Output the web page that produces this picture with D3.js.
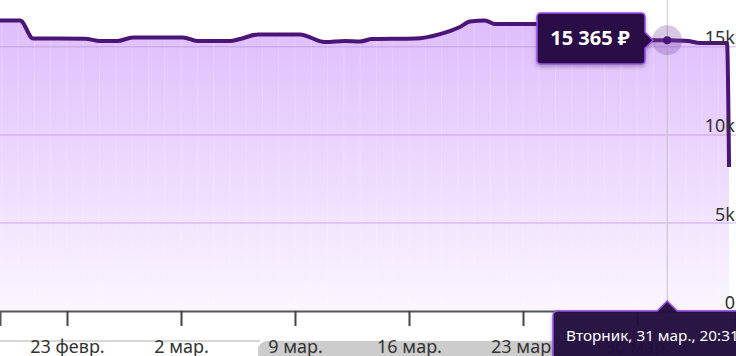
<!DOCTYPE html>
<html><head><meta charset="utf-8">
<script src="https://cdn.jsdelivr.net/npm/d3@7"></script>
<style>html,body{margin:0;padding:0;background:#fff;overflow:hidden}svg{display:block;font-family:"Noto Sans","Open Sans",sans-serif}</style>
</head><body><svg id="c" width="736" height="356"></svg>
<script>
const dates = ["2026-02-18T21:16","2026-02-20T03:00","2026-02-20T22:00","2026-02-24T02:30","2026-02-25T01:00","2026-02-26T02:00","2026-02-27T01:00","2026-03-02T03:00","2026-03-03T00:00","2026-03-05T00:00","2026-03-05T15:00","2026-03-06T17:30","2026-03-09T07:00","2026-03-10T20:00","2026-03-12T02:00","2026-03-13T00:00","2026-03-13T17:30","2026-03-16T09:00","2026-03-17T21:40","2026-03-19T03:00","2026-03-19T18:00","2026-03-20T16:00","2026-03-21T06:45","2026-03-24T01:00","2026-03-27T17:30","2026-03-28T11:00","2026-03-31T20:31","2026-04-02T03:00","2026-04-02T21:00","2026-04-04T12:40","2026-04-04T15:40"];
const prices = [16490,16490,15465,15455,15323,15323,15522,15522,15323,15323,15437,15692,15692,15266,15323,15300,15432,15460,15715,16117,16430,16486,16287,16287,16287,15400,15365,15323,15210,15210,8180];
const yTicks = [0,5000,10000,15000];
const yTickLabels = ["0","5k","10k","15k"];
const xTicks = ["2026-02-23","2026-03-02","2026-03-09","2026-03-16","2026-03-23","2026-03-30"];
const xTickLabels = ["23 февр.","2 мар.","9 мар.","16 мар.","23 мар.","30 мар."];
const hoverDate = "2026-03-31T20:31";
const hoverPrice = 15365;
const hoverPriceLabel = "15 365 ₽";
const hoverDateLabel = "Вторник, 31 мар., 20:31";

const parse = d3.isoParse;
const data = dates.map((d,i)=>({t:new Date(d), v:prices[i]}));
const svg = d3.select("#c");
const x = d3.scaleTime().domain([new Date("2026-02-18T21:16"), new Date("2026-04-05T01:54")]).range([0,736]);
const y = d3.scaleLinear().domain([0,15000]).range([311.3,46.7]);

const defs = svg.append("defs");
const g = defs.append("linearGradient").attr("id","fillg").attr("gradientUnits","userSpaceOnUse")
  .attr("x1",0).attr("x2",0).attr("y1",18).attr("y2",311);
g.append("stop").attr("offset","0").attr("stop-color","#debcfc");
g.append("stop").attr("offset","1").attr("stop-color","#fbf6ff");
const sh = defs.append("filter").attr("id","sh").attr("x","-20%").attr("y","-20%").attr("width","140%").attr("height","160%");
sh.append("feDropShadow").attr("dx",0).attr("dy",2).attr("stdDeviation",2).attr("flood-color","#000").attr("flood-opacity",0.3);

// area
const area = d3.area().x(d=>x(d.t)).y0(y(0)).y1(d=>y(d.v)).curve(d3.curveMonotoneX);
svg.append("path").datum(data).attr("d",area).attr("fill","url(#fillg)");

// faint daily vertical lines
const clip = defs.append("clipPath").attr("id","ac");
clip.append("path").datum(data).attr("d",area);
const days = d3.timeDay.range(x.domain()[0], x.domain()[1]);
svg.append("g").attr("clip-path","url(#ac)").selectAll("line").data(days).join("line")
  .attr("x1",d=>x(d)).attr("x2",d=>x(d)).attr("y1",0).attr("y2",311)
  .attr("stroke","#fff").attr("stroke-opacity",0.18).attr("stroke-width",1);

// gridlines
svg.append("g").selectAll("line").data(yTicks.slice(1)).join("line")
  .attr("x1",0).attr("x2",736).attr("y1",d=>y(d)).attr("y2",d=>y(d))
  .attr("stroke","#b58fd9").attr("stroke-opacity",0.45).attr("stroke-width",1.5);

// crosshair
const hx = x(parse(hoverDate));
svg.append("line").attr("x1",hx).attr("x2",hx).attr("y1",0).attr("y2",302)
  .attr("stroke","#c4c0c8").attr("stroke-width",1);

// line
const line = d3.line().x(d=>x(d.t)).y(d=>y(d.v)).curve(d3.curveMonotoneX);
svg.append("path").datum(data).attr("d",line).attr("fill","none")
  .attr("stroke","#4a1577").attr("stroke-width",4).attr("stroke-linejoin","round");

// y labels
svg.append("g").selectAll("text").data(yTicks).join("text")
  .attr("x",735).attr("y",d=>y(d)-2.5).attr("text-anchor","end")
  .attr("font-size",18).attr("fill","#333").text((d,i)=>yTickLabels[i]);

// x axis
const xAxis = d3.axisBottom(x).tickValues(xTicks.map(d=>parse(d))).tickSize(15).tickFormat((d,i)=>xTickLabels[i]);
// scrollbar track
svg.append("line").attr("x1",0).attr("x2",260).attr("y1",341).attr("y2",341).attr("stroke","#d6d6d6").attr("stroke-width",2);
svg.append("rect").attr("x",258).attr("y",341).attr("width",520).attr("height",30).attr("rx",9).attr("fill","#cccccc");
const ax = svg.append("g").attr("transform","translate(0,311)").call(xAxis);
ax.select(".domain").attr("stroke","#555").attr("stroke-width",2);
ax.selectAll(".tick line").attr("stroke","#444").attr("stroke-width",2);
ax.selectAll(".tick text").attr("font-size",18).attr("fill","#333").attr("font-family","Noto Sans").attr("dy",0).attr("y",42);

// hover marker
const hy = y(hoverPrice);
svg.append("circle").attr("cx",hx).attr("cy",hy).attr("r",15).attr("fill","#7a4ba6").attr("fill-opacity",0.3);
svg.append("circle").attr("cx",hx).attr("cy",hy).attr("r",4).attr("fill","#4a1577");

// top tooltip
const tt = svg.append("g").attr("filter","url(#sh)");
const bx0=537, bx1=645, by0=13, by1=64, ay=hy;
tt.append("path").attr("d",`M${bx0+4},${by0} H${bx1-4} Q${bx1},${by0} ${bx1},${by0+4} V${ay-8} L${bx1+8},${ay} L${bx1},${ay+8} V${by1-4} Q${bx1},${by1} ${bx1-4},${by1} H${bx0+4} Q${bx0},${by1} ${bx0},${by1-4} V${by0+4} Q${bx0},${by0} ${bx0+4},${by0} Z`)
  .attr("fill","#2b0d47").attr("stroke","#9a4cf2").attr("stroke-width",1.5);
svg.append("text").attr("x",(bx0+bx1)/2-1).attr("y",45).attr("text-anchor","middle")
  .attr("font-size",20).attr("font-weight","bold").attr("fill","#fff").text(hoverPriceLabel);

// bottom tooltip
const bt0=553, btTop=311;
svg.append("path").attr("d",`M${bt0+5},${btTop} H${hx-10} L${hx},${btTop-10} L${hx+10},${btTop} H760 V370 H${bt0} V${btTop+5} Q${bt0},${btTop} ${bt0+5},${btTop} Z`)
  .attr("fill","#25093f").attr("fill-opacity",0.95).attr("stroke","#9a4cf2").attr("stroke-width",1.5).attr("filter","url(#sh)");
svg.append("text").attr("x",566).attr("y",341).attr("font-size",15.3).attr("fill","#fff").text(hoverDateLabel);
</script></body></html>
